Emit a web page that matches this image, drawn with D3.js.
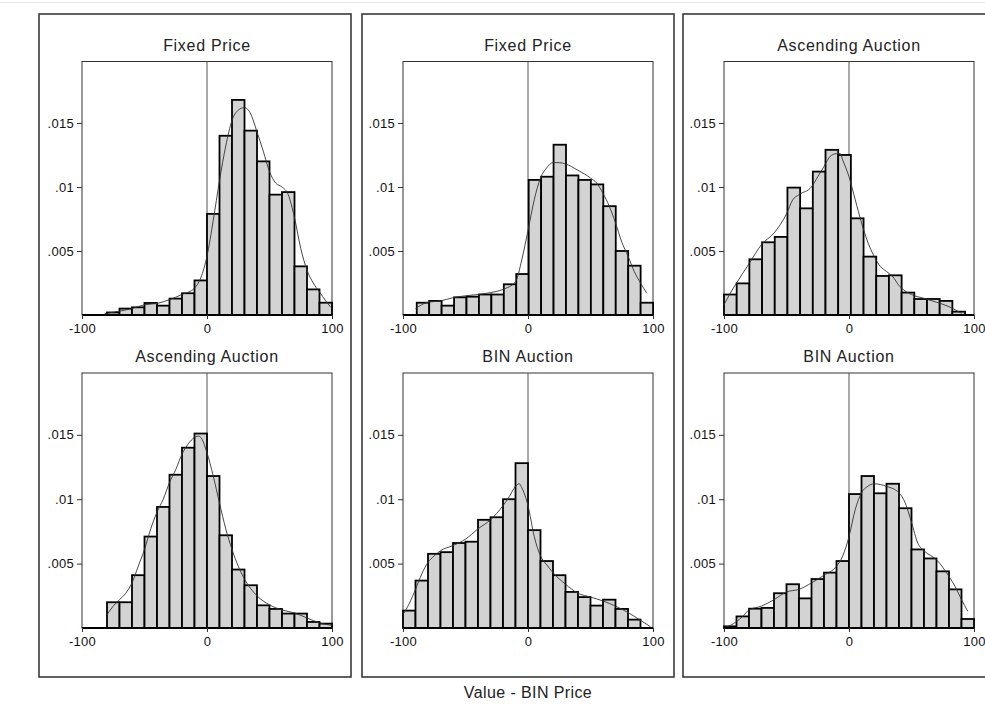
<!DOCTYPE html>
<html>
<head>
<meta charset="utf-8">
<script src="https://cdn.jsdelivr.net/npm/d3@7"></script>
<style>
  html, body { margin: 0; padding: 0; background: #fff; }
  svg { display: block; font-family: Arial, 'Liberation Sans', sans-serif; }
</style>
</head>
<body>
<div id="graph"></div>
<script>
const PANEL_TITLES = ['Fixed Price', 'Fixed Price', 'Ascending Auction',
                      'Ascending Auction', 'BIN Auction', 'BIN Auction']
const X_TICKS = [-100, 0, 100]
const X_TICK_LABELS = ['-100', '0', '100']
const Y_TICKS = [0.005, 0.01, 0.015]
const Y_TICK_LABELS = ['.005', '.01', '.015']
const X_TITLE = 'Value - BIN Price'

// histogram bins: first edge, bin width, densities
const BIN_STARTS = [-80, -89, -100, -80, -100, -100]
const BIN_WIDTHS = [10, 9.95, 10.15, 10, 10, 10]

const fixed1Heights = [0.0002, 0.0005, 0.0006, 0.00094, 0.00073, 0.00128, 0.0017, 0.0027, 0.0079,
  0.0140, 0.0168, 0.0144, 0.0120, 0.0094, 0.0096, 0.0038, 0.0020, 0.00096]
const fixed2Heights = [0.00096, 0.0011, 0.00073, 0.00138, 0.00143, 0.0016, 0.0016, 0.0024, 0.0032,
  0.01055, 0.0108, 0.0133, 0.0109, 0.01055, 0.0102, 0.0085, 0.0050, 0.00385, 0.00096]
const asc1Heights = [0.0016, 0.00247, 0.00435, 0.00568, 0.0061, 0.00995, 0.00833, 0.0112, 0.0129,
  0.0125, 0.00755, 0.00456, 0.00305, 0.0031, 0.00175, 0.00125, 0.00125, 0.0011, 0.00026]
const asc2Heights = [0.0020, 0.0020, 0.0041, 0.0071, 0.0094, 0.0119, 0.0140, 0.0151, 0.0118,
  0.0072, 0.00454, 0.00332, 0.00176, 0.00148, 0.00112, 0.00112, 0.00047, 0.00034]
const bin1Heights = [0.00135, 0.00368, 0.00576, 0.00589, 0.0066, 0.0067, 0.0084, 0.0086, 0.0100,
  0.0128, 0.0076, 0.0052, 0.0041, 0.0028, 0.0024, 0.00174, 0.0022, 0.00148, 0.00065]
const bin2Heights = [0.00013, 0.0009, 0.0015, 0.00156, 0.0027, 0.0034, 0.0023, 0.0038, 0.0043,
  0.0052, 0.0104, 0.0118, 0.01046, 0.0112, 0.0093, 0.0061, 0.0054, 0.0044, 0.0030, 0.0007]

// kernel density curves: [value, density]
const fixed1Curve = [[-82, 0.0001], [-70, 0.0003], [-60, 0.0005], [-50, 0.0008], [-40, 0.0009],
  [-30, 0.0012], [-20, 0.0016], [-10, 0.0021], [-5, 0.0029], [0, 0.0046], [5, 0.0074], [10, 0.0105],
  [15, 0.0132], [20, 0.0152], [25, 0.0160], [30, 0.0162], [35, 0.0157], [40, 0.0143], [45, 0.0128],
  [50, 0.0112], [55, 0.0103], [60, 0.0100], [65, 0.0094], [70, 0.0076], [75, 0.0052], [80, 0.0035],
  [85, 0.0025], [90, 0.0018], [95, 0.0011], [99, 0.0006]]
const fixed2Curve = [[-90, 0.0005], [-80, 0.001], [-70, 0.0011], [-60, 0.00135], [-50, 0.0015],
  [-40, 0.0016], [-30, 0.00175], [-20, 0.002], [-10, 0.0026], [-5, 0.0043], [0, 0.0066], [5, 0.009],
  [10, 0.0107], [15, 0.0115], [20, 0.0119], [25, 0.0119], [30, 0.0118], [40, 0.0113], [50, 0.0107],
  [55, 0.0103], [60, 0.0095], [65, 0.0085], [70, 0.0072], [75, 0.0057], [80, 0.0046], [85, 0.0034],
  [90, 0.0025], [95, 0.0017]]
const asc1Curve = [[-100, 0.0008], [-95, 0.0017], [-90, 0.0025], [-80, 0.004], [-70, 0.0055],
  [-60, 0.0064], [-50, 0.0079], [-45, 0.009], [-40, 0.0094], [-30, 0.01], [-25, 0.0108], [-20, 0.0116],
  [-15, 0.0124], [-10, 0.0126], [-7, 0.0126], [-5, 0.0121], [0, 0.0108], [5, 0.009], [10, 0.0072],
  [15, 0.0057], [20, 0.0046], [25, 0.0038], [30, 0.0034], [35, 0.003], [40, 0.0023], [50, 0.0016],
  [60, 0.0013], [70, 0.001], [80, 0.00065], [90, 0.00013]]
const asc2Curve = [[-80, 0.00104], [-75, 0.0017], [-70, 0.0022], [-65, 0.0027], [-60, 0.0035],
  [-55, 0.0048], [-50, 0.0061], [-45, 0.0077], [-40, 0.009], [-35, 0.01], [-30, 0.0113], [-25, 0.0123],
  [-20, 0.0135], [-15, 0.0143], [-10, 0.0148], [-7, 0.0149], [-5, 0.0148], [0, 0.0136], [5, 0.0118],
  [10, 0.0097], [15, 0.0077], [20, 0.0061], [25, 0.0048], [30, 0.0038], [40, 0.0025], [50, 0.0018],
  [60, 0.0014], [70, 0.00117], [80, 0.00078], [90, 0.0004], [100, 0.0002]]
const bin1Curve = [[-100, 0.00104], [-95, 0.0019], [-90, 0.003], [-85, 0.0042], [-80, 0.0051],
  [-75, 0.0056], [-70, 0.006], [-60, 0.0064], [-50, 0.0069], [-40, 0.0077], [-30, 0.0084], [-20, 0.0095],
  [-15, 0.0102], [-10, 0.011], [-7, 0.0112], [-5, 0.0109], [0, 0.0095], [5, 0.0071], [10, 0.0056],
  [15, 0.0049], [20, 0.0043], [30, 0.0034], [40, 0.0027], [50, 0.0024], [60, 0.0021], [70, 0.0017],
  [80, 0.0012], [90, 0.0006], [98, 0.0001]]
const bin2Curve = [[-100, 0.00005], [-95, 0.0002], [-90, 0.0005], [-85, 0.0009], [-80, 0.0014],
  [-70, 0.0017], [-60, 0.0022], [-50, 0.0028], [-40, 0.003], [-30, 0.0035], [-20, 0.0041], [-10, 0.0048],
  [-5, 0.0056], [0, 0.0071], [5, 0.0092], [10, 0.0105], [15, 0.011], [20, 0.0112], [30, 0.011],
  [40, 0.0105], [45, 0.0097], [50, 0.0082], [55, 0.0066], [60, 0.006], [70, 0.0053], [80, 0.004],
  [85, 0.0032], [90, 0.0022], [95, 0.0013]]

const HEIGHTS = [fixed1Heights, fixed2Heights, asc1Heights, asc2Heights, bin1Heights, bin2Heights]
const CURVES = [fixed1Curve, fixed2Curve, asc1Curve, asc2Curve, bin1Curve, bin2Curve]

const SIZE = { WIDTH: 985, HEIGHT: 720 }
const BOX_X = [39, 362, 683], BOX_W = 312, BOX_TOP = 14, BOX_BOTTOM = 677
const PLOT_X = [82, 403, 724], PLOT_W = 250
const ROW_TOP = [61.5, 373], ROW_BOTTOM = [315, 628]
const Y_MAX = 0.0198
const FONT = "Arial, 'Liberation Sans', sans-serif"

const svg = d3.select('#graph')
  .append('svg')
  .attr('width', SIZE.WIDTH)
  .attr('height', SIZE.HEIGHT)

svg.append('line')
  .attr('x1', 0).attr('x2', SIZE.WIDTH)
  .attr('y1', 2.5).attr('y2', 2.5)
  .attr('stroke', '#e2e8e8')

// outer column boxes
BOX_X.forEach(x => {
  svg.append('rect')
    .attr('x', x).attr('y', BOX_TOP)
    .attr('width', BOX_W).attr('height', BOX_BOTTOM - BOX_TOP)
    .attr('fill', 'none')
    .attr('stroke', '#3a3a3a')
    .attr('stroke-width', 1.6)
})

const buildPanel = (i) => {
  const col = i % 3, row = Math.floor(i / 3)
  const x0 = PLOT_X[col], top = ROW_TOP[row], bottom = ROW_BOTTOM[row]
  const xScale = d3.scaleLinear().domain([-100, 100]).range([x0, x0 + PLOT_W])
  const yScale = d3.scaleLinear().domain([0, Y_MAX]).range([bottom, top])
  const g = svg.append('g')

  g.append('text')
    .attr('x', xScale(0))
    .attr('y', top - 11)
    .attr('text-anchor', 'middle')
    .style('font-size', '16px')
    .style('letter-spacing', '0.7px')
    .attr('fill', '#222')
    .text(PANEL_TITLES[i])

  g.append('rect')
    .attr('x', x0).attr('y', top)
    .attr('width', PLOT_W).attr('height', bottom - top)
    .attr('fill', '#fff')
    .attr('stroke', '#333')
    .attr('stroke-width', 1)

  g.append('line')
    .attr('x1', xScale(0)).attr('x2', xScale(0))
    .attr('y1', top).attr('y2', bottom)
    .attr('stroke', '#555')
    .attr('stroke-width', 1)

  const bins = HEIGHTS[i].map((h, k) => ({
    x0: BIN_STARTS[i] + k * BIN_WIDTHS[i],
    x1: BIN_STARTS[i] + (k + 1) * BIN_WIDTHS[i],
    h
  }))
  g.selectAll('rect.bar')
    .data(bins)
    .enter()
    .append('rect')
    .attr('class', 'bar')
    .attr('x', d => xScale(d.x0))
    .attr('width', d => xScale(d.x1) - xScale(d.x0))
    .attr('y', d => yScale(d.h))
    .attr('height', d => yScale(0) - yScale(d.h))
    .attr('fill', '#d3d3d3')
    .attr('stroke', '#000')
    .attr('stroke-width', 1.8)

  const line = d3.line()
    .x(d => xScale(d[0]))
    .y(d => yScale(d[1]))
    .curve(d3.curveMonotoneX)
  g.append('path')
    .datum(CURVES[i])
    .attr('d', line)
    .attr('fill', 'none')
    .attr('stroke', '#333')
    .attr('stroke-width', 0.9)

  g.append('line')
    .attr('x1', x0).attr('x2', x0 + PLOT_W)
    .attr('y1', bottom).attr('y2', bottom)
    .attr('stroke', '#000')
    .attr('stroke-width', 2)

  const yAxis = d3.axisLeft(yScale)
    .tickValues(Y_TICKS)
    .tickSize(5)
    .tickPadding(3)
    .tickFormat((d, k) => Y_TICK_LABELS[k])
  const ya = g.append('g')
    .attr('transform', `translate(${x0},0)`)
    .call(yAxis)
  ya.select('.domain').remove()

  const xAxis = d3.axisBottom(xScale)
    .tickValues(X_TICKS)
    .tickSize(4)
    .tickPadding(5)
    .tickFormat((d, k) => X_TICK_LABELS[k])
  const xa = g.append('g')
    .attr('transform', `translate(0,${bottom})`)
    .call(xAxis)
  xa.select('.domain').remove()

  g.selectAll('.tick line').attr('stroke', '#333')
  g.selectAll('.tick text')
    .style('font-size', '13px')
    .style('letter-spacing', '0.3px')
    .style('font-family', FONT)
    .attr('fill', '#111')
}

PANEL_TITLES.forEach((t, i) => buildPanel(i))

svg.append('text')
  .attr('x', PLOT_X[1] + PLOT_W / 2)
  .attr('y', 698)
  .attr('text-anchor', 'middle')
  .style('font-size', '16px')
  .style('letter-spacing', '0.4px')
  .attr('fill', '#222')
  .text(X_TITLE)
</script>
</body>
</html>
